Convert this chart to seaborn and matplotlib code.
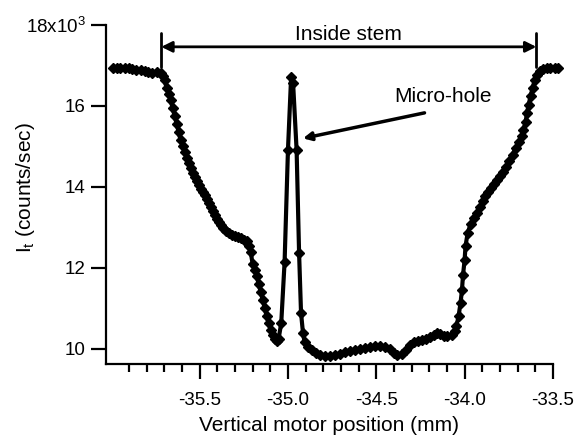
import matplotlib
matplotlib.use("Agg")
import matplotlib.pyplot as plt
import seaborn as sns
import pandas as pd

# Vertical motor position (mm)
position_mm = [
    -35.99, -35.97, -35.95, -35.92, -35.90, -35.88, -35.86, -35.83, -35.81, -35.79,
    -35.77, -35.74, -35.72, -35.709, -35.698, -35.687, -35.675, -35.664, -35.653, -35.641,
    -35.630, -35.619, -35.608, -35.596, -35.585, -35.574, -35.562, -35.551, -35.540, -35.528,
    -35.517, -35.506, -35.494, -35.483, -35.472, -35.460, -35.449, -35.438, -35.426, -35.415,
    -35.404, -35.392, -35.381, -35.370, -35.353, -35.336, -35.319, -35.302, -35.285, -35.268,
    -35.251, -35.234, -35.223, -35.211, -35.200, -35.189, -35.177, -35.166, -35.155, -35.143,
    -35.132, -35.121, -35.110, -35.098, -35.087, -35.076, -35.064, -35.053, -35.038, -35.019,
    -35.000, -34.982, -34.971, -34.951, -34.937, -34.926, -34.915, -34.906, -34.889, -34.866,
    -34.844, -34.821, -34.793, -34.764, -34.736, -34.708, -34.679, -34.651, -34.623, -34.595,
    -34.566, -34.538, -34.510, -34.481, -34.453, -34.425, -34.402, -34.380, -34.357, -34.334,
    -34.312, -34.289, -34.266, -34.244, -34.221, -34.198, -34.176, -34.159, -34.142, -34.119,
    -34.097, -34.074, -34.057, -34.046, -34.034, -34.023, -34.015, -34.009, -34.000, -33.995,
    -33.983, -33.966, -33.949, -33.932, -33.915, -33.898, -33.882, -33.865, -33.848, -33.831,
    -33.814, -33.797, -33.780, -33.763, -33.746, -33.729, -33.712, -33.695, -33.678, -33.667,
    -33.655, -33.647, -33.638, -33.627, -33.615, -33.604, -33.593, -33.576, -33.559, -33.536,
    -33.514, -33.491, -33.474,
]

# Transmitted intensity I_t (x10^3 counts/sec)
intensity_k = [
    16.94, 16.94, 16.94, 16.93, 16.93, 16.92, 16.90, 16.88, 16.86, 16.84,
    16.82, 16.83, 16.82, 16.74, 16.64, 16.44, 16.30, 16.15, 15.95, 15.75,
    15.56, 15.36, 15.16, 15.01, 14.86, 14.72, 14.59, 14.47, 14.35, 14.25,
    14.15, 14.05, 13.95, 13.88, 13.80, 13.70, 13.60, 13.51, 13.41, 13.31,
    13.21, 13.14, 13.06, 12.99, 12.91, 12.86, 12.82, 12.79, 12.77, 12.74,
    12.70, 12.67, 12.54, 12.40, 12.10, 11.95, 11.80, 11.61, 11.41, 11.21,
    11.01, 10.82, 10.64, 10.47, 10.35, 10.25, 10.20, 10.25, 10.64, 12.15,
    14.91, 16.72, 16.57, 14.91, 12.37, 10.89, 10.40, 10.17, 10.05, 9.98,
    9.90, 9.85, 9.83, 9.83, 9.85, 9.88, 9.93, 9.95, 9.98, 10.00,
    10.02, 10.05, 10.07, 10.07, 10.05, 10.00, 9.90, 9.85, 9.88, 9.98,
    10.10, 10.17, 10.20, 10.22, 10.25, 10.30, 10.35, 10.40, 10.37, 10.32,
    10.32, 10.35, 10.44, 10.57, 10.82, 11.14, 11.46, 11.83, 12.20, 12.54,
    12.86, 13.09, 13.24, 13.36, 13.51, 13.65, 13.78, 13.88, 13.98, 14.07,
    14.17, 14.27, 14.37, 14.49, 14.64, 14.79, 14.96, 15.11, 15.26, 15.41,
    15.60, 15.83, 16.02, 16.25, 16.44, 16.64, 16.77, 16.86, 16.91, 16.94,
    16.94, 16.94, 16.94,
]

y_ticks = [10, 12, 14, 16, 18]
y_tick_labels = ["10", "12", "14", "16", r"18x10$^{\mathregular{3}}$"]
x_ticks = [-35.5, -35.0, -34.5, -34.0, -33.5]
x_tick_labels = ["-35.5", "-35.0", "-34.5", "-34.0", "-33.5"]

stem_start, stem_end = -35.717, -33.594
hole_tip = (-34.915, 15.20)
hole_tail = (-34.227, 15.83)

sns.set_style("ticks")
plt.rcParams["font.family"] = ["Liberation Sans", "DejaVu Sans"]
plt.rcParams["mathtext.fontset"] = "custom"
plt.rcParams["mathtext.rm"] = "Liberation Sans"
plt.rcParams["mathtext.it"] = "Liberation Sans:italic"
plt.rcParams["mathtext.default"] = "regular"
plt.rcParams["text.color"] = "black"
plt.rcParams["axes.labelcolor"] = "black"
plt.rcParams["xtick.color"] = "black"
plt.rcParams["ytick.color"] = "black"

df = pd.DataFrame({"pos": position_mm, "It": intensity_k})

fig = plt.figure(figsize=(5.76, 4.38), dpi=100)
ax = fig.add_axes([0.184, 0.169, 0.776, 0.774])

sns.lineplot(data=df, x="pos", y="It", ax=ax, color="black", lw=3.0,
             marker="D", markersize=5.4, markeredgecolor="black",
             markeredgewidth=1.0, estimator=None, sort=False, clip_on=False)

ax.set_xlim(-36.03, -33.5)
ax.set_ylim(9.63, 18.0)
ax.set_xticks(x_ticks)
ax.set_xticklabels(x_tick_labels)
ax.set_xticks([v / 10 for v in range(-359, -334)], minor=True)
ax.set_yticks(y_ticks)
ax.set_yticklabels(y_tick_labels)

for s in ["top", "right"]:
    ax.spines[s].set_visible(False)
for s in ["left", "bottom"]:
    ax.spines[s].set_linewidth(1.6)
    ax.spines[s].set_color("black")

ax.tick_params(axis="both", which="major", length=11, width=1.6, color="black",
               labelsize=13.5, labelcolor="black", direction="out")
ax.tick_params(axis="x", which="minor", length=6, width=1.6, color="black", direction="out")
ax.tick_params(axis="x", which="major", pad=9.5)
ax.tick_params(axis="y", which="major", pad=3.5)

ax.set_xlabel("Vertical motor position (mm)", fontsize=15, labelpad=5)
ax.set_ylabel(r"$\mathregular{I_t}$ (counts/sec)", fontsize=15)
ax.yaxis.set_label_coords(-0.154, 0.52)

# "Inside stem" bracket
for xv in (stem_start, stem_end):
    ax.plot([xv, xv], [16.95, 17.80], color="black", lw=2, clip_on=False)
ax.annotate("", xy=(stem_start, 17.46), xytext=(stem_end, 17.46),
            arrowprops=dict(arrowstyle="<|-|>", color="black", lw=2,
                            mutation_scale=16, shrinkA=0, shrinkB=0),
            annotation_clip=False)
ax.text((stem_start + stem_end) / 2, 17.62, "Inside stem", ha="center",
        va="baseline", fontsize=15)

# Micro-hole annotation
ax.annotate("", xy=hole_tip, xytext=hole_tail,
            arrowprops=dict(arrowstyle="-|>", color="black", lw=2.5,
                            mutation_scale=12, shrinkA=0, shrinkB=0))
ax.text(-34.40, 16.11, "Micro-hole", ha="left", va="baseline", fontsize=15)

fig.savefig("out.png", dpi=100)
